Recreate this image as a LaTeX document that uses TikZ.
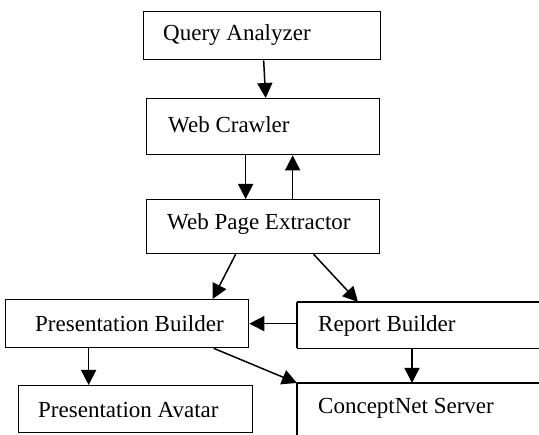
\documentclass[tikz,border=0pt]{standalone}
\usepackage{fontspec}
\setmainfont{Liberation Serif}
\usetikzlibrary{arrows.meta,calc}
\begin{document}
\begin{tikzpicture}[x=1pt,y=-1pt,
  box/.style={draw,line width=1.3pt,inner sep=0pt,minimum height=#1,anchor=north west},
  openbox/.style={inner sep=0pt,minimum height=#1,anchor=north west},
  boxline/.style={line width=1.3pt},
  lbl/.style={font=\fontsize{23}{27}\selectfont,anchor=west,inner sep=0pt},
  arr/.style={line width=1.5pt,-{Triangle[length=15pt,width=15pt]}}]
\fill[white] (0,0) rectangle (539,435);
\useasboundingbox (0,0) rectangle (539,435);
% boxes
\node[box=48pt,minimum width=237pt] (qa) at (143,11) {};
\node[box=56pt,minimum width=233pt] (wc) at (146,98) {};
\node[box=54pt,minimum width=233pt] (wpe) at (146,199) {};
\node[box=48pt,minimum width=243pt] (pb) at (5,299) {};
\node[openbox=46pt,minimum width=242pt] (rb) at (297,302) {};
\node[box=47pt,minimum width=234pt] (pa) at (18,385) {};
\node[openbox=60pt,minimum width=242pt] (cs) at (297,383) {};
\draw[boxline] (rb.north west) -- (rb.north east);
\draw[boxline] (rb.south west) -- (rb.south east);
\draw[boxline] (rb.north west) -- (rb.south west);
\draw[boxline] (cs.north west) -- (cs.north east);
\draw[boxline] (cs.north west) -- (cs.south west);
% labels
\node[lbl] (tqa) at (163,35) {Query Analyzer};
\node[lbl] (twc) at (168,125) {Web Crawler};
\node[lbl] (twpe) at (167,224) {Web Page Extractor};
\node[lbl] (tpb) at (35,324) {Presentation Builder};
\node[lbl] (trb) at (318,326) {Report Builder};
\node[lbl] (tpa) at (38,410) {Presentation Avatar};
\node[lbl] (tcs) at (318,408) {ConceptNet Server};
% arrows
\draw[arr] ([xshift=1.5pt]qa.south) -- ([xshift=2.5pt]wc.north);
\draw[arr] ([xshift=-17.5pt]wc.south) -- ([xshift=-17.5pt]wpe.north);
\draw[arr] ([xshift=29.5pt]wpe.north) -- ([xshift=29.5pt]wc.south);
\draw[arr] ([xshift=50.5pt]wpe.south) -- ([xshift=61pt]rb.north west);
\draw[arr] ([xshift=-27.5pt]wpe.south) -- ([xshift=85.5pt]pb.north);
\draw[arr] (rb.west |- pb.east) -- (pb.east);
\draw[arr] ([xshift=115pt]rb.south west) -- ([xshift=115pt]cs.north west);
\draw[arr] ([xshift=-38.5pt]pb.south) -- ([xshift=-47pt]pa.north);
\draw[arr] ([xshift=86.5pt]pb.south) -- (cs.north west);
\end{tikzpicture}
\end{document}
